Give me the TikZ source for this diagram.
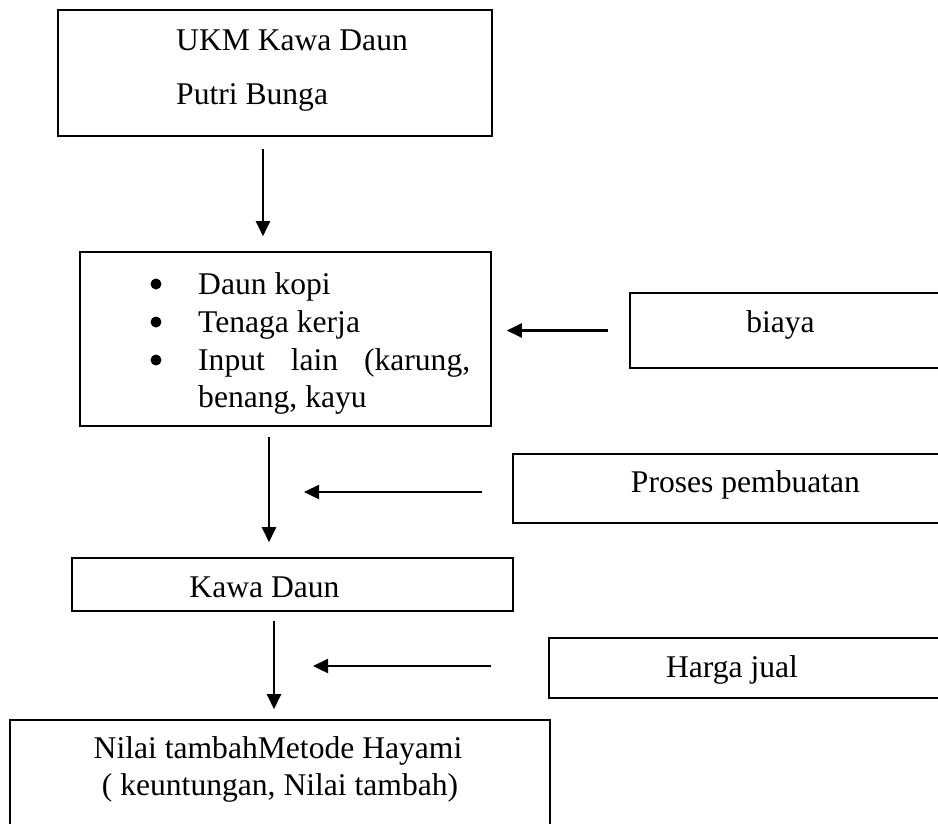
\documentclass[tikz,border=0pt]{standalone}
\usepackage{fontspec}
\setmainfont{Liberation Serif}
\usetikzlibrary{arrows.meta, positioning}

\begin{document}
\begin{tikzpicture}[x=1pt, y=-1pt,
  box/.style={draw, line width=1.6pt, inner sep=0pt},
  txt/.style={font=\fontsize{31.6pt}{37.5pt}\selectfont, inner sep=0pt, anchor=base},
  flow/.style={-{Triangle[length=15pt, width=14pt]}, line width=2.3pt}]
  \useasboundingbox (0,0) rectangle (938,823);
  \clip (0,0) rectangle (938,823);
  % boxes
  \node[box, minimum width=434pt, minimum height=126pt] (ukm) at (275,73) {};
  \node[box, minimum width=411pt, minimum height=174pt] (input) at (285.5,339) {};
  \node[box, minimum width=330pt, minimum height=75pt] (biaya) at (795,330.5) {};
  \node[box, minimum width=447pt, minimum height=69pt] (proses) at (736.5,488.5) {};
  \node[box, minimum width=441pt, minimum height=53pt] (kawa) at (292.5,584.5) {};
  \node[box, minimum width=411pt, minimum height=60pt] (harga) at (754.5,668) {};
  \node[box, minimum width=540pt, minimum height=130pt] (hasil) at (280,785) {};
  % texts
  \node[txt, anchor=base west] (ukmA) at (176,50) {UKM Kawa Daun};
  \node[txt, anchor=base west] (ukmB) at (176,104) {Putri Bunga};
  \node[txt, anchor=base west] (inA) at (198,294) {Daun kopi};
  \node[txt, anchor=base west] (inB) at (198,332) {Tenaga kerja};
  \node[txt, anchor=base west] (inC) at (198,370) {\makebox[272pt][s]{Input lain (karung,}};
  \node[txt, anchor=base west] (inD) at (198,407) {benang, kayu};
  \foreach \y in {294,332,370}
    \fill (156,\y-10) circle (5.5pt);
  \node[txt] (biayaT) at (780.5,332) {biaya};
  \node[txt] (prosesT) at (745.5,492) {Proses pembuatan};
  \node[txt] (kawaT) at (264.5,597) {Kawa Daun};
  \node[txt] (hargaT) at (732,677) {Harga jual};
  \node[txt] (hasilA) at (278,758) {Nilai tambahMetode Hayami};
  \node[txt] (hasilB) at (280,795) {( keuntungan, Nilai tambah)};
  % arrows
  \coordinate (x1) at (263,0);
  \coordinate (x3) at (269,0);
  \coordinate (x5) at (274,0);
  \coordinate (p4) at (304,492);
  \coordinate (p6) at (313,666);
  \draw[flow, shorten <=12pt, shorten >=15pt] (ukm.south -| x1) -- (input.north -| x1);
  \draw[flow, shorten <=21pt, shorten >=15pt] (biaya.west) -- (input.east |- biaya.west);
  \draw[flow, shorten <=10pt, shorten >=15pt] (input.south -| x3) -- (kawa.north -| x3);
  \draw[flow, shorten <=30pt] (proses.west |- p4) -- (p4);
  \draw[flow, shorten <=9pt, shorten >=10pt] (kawa.south -| x5) -- (hasil.north -| x5);
  \draw[flow, shorten <=57pt] (harga.west |- p6) -- (p6);
\end{tikzpicture}
\end{document}
